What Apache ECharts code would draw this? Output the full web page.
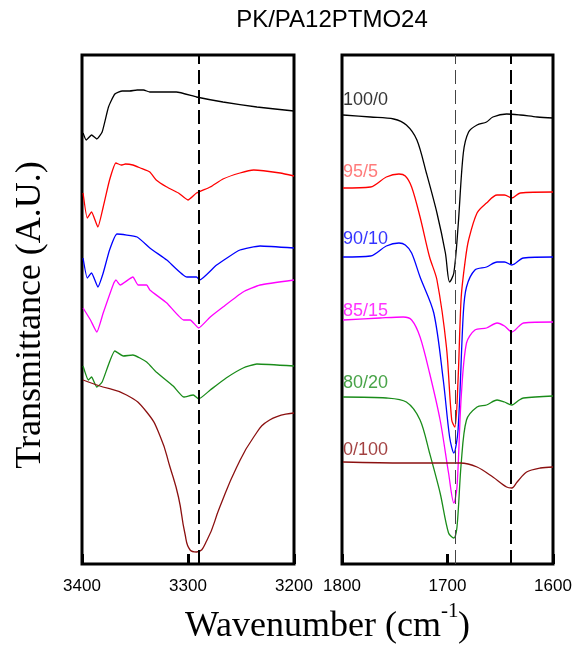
<!DOCTYPE html>
<html>
<head>
<meta charset="utf-8">
<script src="https://cdn.jsdelivr.net/npm/echarts@6/dist/echarts.min.js"></script>
<style>
  html, body { margin: 0; padding: 0; background: #fff; }
  #main { width: 581px; height: 650px; }
</style>
</head>
<body>
<div id="main"></div>
<script>
// sample names (PK/PA12PTMO24 ratio)
var samples = ['100/0', '95/5', '90/10', '85/15', '80/20', '0/100'];
var colors = ['#000000', '#ff0000', '#0000ff', '#ff00ff', '#1a8c1a', '#8b1010'];
var labelColors = ['#000000', '#ff5a5a', '#0000ff', '#ff00ff', '#1a8c1a', '#8b1010'];

// N-H region (3400-3200), [wavenumber, offset transmittance]
var nh_100_0 = [[3399,431],[3396,424],[3391,429],[3386,425],[3381,432],[3375,457],[3369,470],[3362,473],[3355,473],[3348,474],[3342,474],[3336,472],[3311,472],[3292,467],[3267,462],[3235,457],[3200,453]];
var nh_95_5 = [[3399,371],[3395,346],[3391,352],[3385,337],[3380,357],[3374,384],[3368,401],[3363,399],[3359,400],[3352,399],[3345,396],[3336,392],[3330,384],[3320,377],[3309,371],[3300,364],[3292,371],[3279,377],[3267,385],[3251,391],[3238,394],[3213,391],[3200,388]];
var nh_90_10 = [[3399,306],[3395,286],[3391,291],[3385,277],[3380,291],[3374,314],[3367,330],[3348,327],[3336,316],[3320,304],[3301,287],[3292,287],[3289,284],[3273,299],[3251,314],[3232,318],[3200,316]];
var nh_85_15 = [[3399,256],[3392,244],[3386,232],[3380,251],[3370,281],[3368,284],[3364,279],[3352,287],[3347,279],[3339,279],[3336,274],[3320,261],[3304,244],[3298,244],[3290,236],[3279,247],[3267,257],[3248,272],[3232,279],[3200,284]];
var nh_80_20 = [[3399,198],[3394,184],[3391,187],[3386,177],[3381,182],[3369,213],[3361,208],[3352,209],[3339,202],[3330,192],[3314,178],[3304,167],[3295,169],[3290,165],[3279,174],[3264,186],[3248,196],[3235,200],[3200,198]];
var nh_0_100 = [[3399,184],[3386,179],[3358,169],[3339,152],[3326,127],[3317,97],[3309,67],[3303,31],[3298,14],[3292,12],[3282,24],[3270,57],[3254,97],[3238,127],[3223,144],[3200,151]];

// C=O region (1800-1600)
var co_100_0 = [[1799,449],[1773,447],[1751,445],[1739,439],[1729,424],[1720,391],[1710,351],[1702,311],[1698,282],[1694,291],[1690,337],[1685,411],[1680,432],[1672,439],[1663,442],[1657,447],[1644,450],[1631,449],[1615,447],[1600,446]];
var co_95_5 = [[1799,376],[1773,377],[1758,387],[1746,390],[1740,388],[1734,377],[1726,347],[1717,307],[1710,284],[1701,217],[1696,144],[1693,137],[1690,184],[1687,267],[1683,305],[1680,324],[1672,351],[1663,361],[1653,369],[1646,369],[1639,366],[1631,371],[1600,372]];
var co_90_10 = [[1799,307],[1773,308],[1758,318],[1746,321],[1740,319],[1734,311],[1726,287],[1713,251],[1704,184],[1698,127],[1694,111],[1690,134],[1685,251],[1682,277],[1674,294],[1663,297],[1653,302],[1646,302],[1639,299],[1628,306],[1600,307]];
var co_85_15 = [[1799,244],[1764,246],[1742,247],[1734,244],[1726,227],[1717,191],[1707,144],[1699,91],[1694,61],[1691,77],[1687,167],[1682,221],[1674,234],[1663,236],[1653,241],[1646,238],[1639,232],[1632,238],[1628,241],[1600,242]];
var co_80_20 = [[1799,167],[1758,166],[1739,162],[1726,144],[1717,111],[1707,71],[1699,31],[1694,26],[1691,37],[1687,101],[1682,144],[1672,157],[1663,159],[1653,164],[1646,162],[1639,159],[1632,164],[1628,166],[1600,168]];
var co_0_100 = [[1799,102],[1742,101],[1710,101],[1688,101],[1672,97],[1657,87],[1644,77],[1639,76],[1634,82],[1625,92],[1612,96],[1600,97]];

var nhSets = [nh_100_0, nh_95_5, nh_90_10, nh_85_15, nh_80_20, nh_0_100];
var coSets = [co_100_0, co_95_5, co_90_10, co_85_15, co_80_20, co_0_100];
var nhMarks = [3290];
var coMarks = [1693, 1640];
// y position of each ratio label (value units) in the right panel
var labelY = [464, 392, 325, 253, 181, 114];

var chart = echarts.init(document.getElementById('main'));

var xAxisBase = {
    type: 'value',
    inverse: true,
    interval: 100,
    axisLine: { show: false },
    axisTick: { inside: true, length: 10, lineStyle: { color: '#000', width: 3 } },
    axisLabel: {
        color: '#000', fontSize: 17, fontFamily: 'Liberation Sans, Arial', margin: 14,
        showMinLabel: true, showMaxLabel: true,
        formatter: function (v) { return String(v); }
    },
    splitLine: { show: false }
};
var yAxisBase = { type: 'value', min: 0, max: 509, show: false };

var series = [];
nhSets.forEach(function (d, i) {
    series.push({
        type: 'line', xAxisIndex: 0, yAxisIndex: 0, data: d,
        showSymbol: false, smooth: i === 5 ? 0.5 : 0.15,
        lineStyle: { color: colors[i], width: 1.3 },
        z: 3
    });
});
coSets.forEach(function (d, i) {
    series.push({
        type: 'line', xAxisIndex: 1, yAxisIndex: 1, data: d,
        showSymbol: false, smooth: 0.3,
        lineStyle: { color: colors[i], width: 1.3 },
        z: 3
    });
});
// dashed reference lines
series[0].markLine = {
    silent: true, symbol: 'none', label: { show: false },
    lineStyle: { color: '#000', type: [14, 6], width: 2 },
    data: nhMarks.map(function (v) { return { xAxis: v }; })
};
series[6].markLine = {
    silent: true, symbol: 'none', label: { show: false },
    data: [
        { xAxis: coMarks[0], lineStyle: { color: '#444', type: [14, 6], width: 1 } },
        { xAxis: coMarks[1], lineStyle: { color: '#000', type: [14, 6], width: 2 } }
    ]
};
// ratio labels at the left edge of the right panel
series.push({
    type: 'scatter', xAxisIndex: 1, yAxisIndex: 1, symbolSize: 0, silent: true,
    data: samples.map(function (s, i) {
        return { value: [1799, labelY[i]], name: s, label: { color: labelColors[i] } };
    }),
    label: {
        show: true, position: 'right', distance: 0,
        fontSize: 18, fontFamily: 'Liberation Sans, Arial',
        formatter: function (p) { return p.name; }
    },
    z: 5
});

var serif36 = '36px "Liberation Serif", "Times New Roman", serif';

chart.setOption({
    backgroundColor: '#fff',
    animation: false,
    title: {
        text: 'PK/PA12PTMO24', left: 327, top: 3, textAlign: 'center',
        textStyle: { fontSize: 24, fontWeight: 'normal', color: '#000', fontFamily: 'Liberation Sans, Arial' }
    },
    grid: [
        { left: 82, top: 55, width: 212, height: 509, show: true, borderColor: '#000', borderWidth: 3, backgroundColor: 'transparent' },
        { left: 342, top: 55, width: 211, height: 509, show: true, borderColor: '#000', borderWidth: 3, backgroundColor: 'transparent' }
    ],
    xAxis: [
        Object.assign({}, xAxisBase, { gridIndex: 0, min: 3200, max: 3400 }),
        Object.assign({}, xAxisBase, { gridIndex: 1, min: 1600, max: 1800 })
    ],
    yAxis: [
        Object.assign({}, yAxisBase, { gridIndex: 0 }),
        Object.assign({}, yAxisBase, { gridIndex: 1 })
    ],
    graphic: [
        {
            type: 'text', x: 31, y: 315, rotation: Math.PI / 2, z: 10,
            style: { text: 'Transmittance (A.U.)', font: serif36, fill: '#000', align: 'center', verticalAlign: 'middle' }
        },
        // x axis title, superscript placed by hand
        {
            type: 'text', x: 441, y: 627, z: 10,
            style: { text: 'Wavenumber (cm', font: serif36, fill: '#000', align: 'right', verticalAlign: 'middle' }
        },
        {
            type: 'text', x: 441, y: 611, z: 10,
            style: { text: '-1', font: '21px "Liberation Serif", "Times New Roman", serif', fill: '#000', align: 'left', verticalAlign: 'middle' }
        },
        {
            type: 'text', x: 458, y: 627, z: 10,
            style: { text: ')', font: serif36, fill: '#000', align: 'left', verticalAlign: 'middle' }
        }
    ],
    series: series
});
</script>
</body>
</html>
